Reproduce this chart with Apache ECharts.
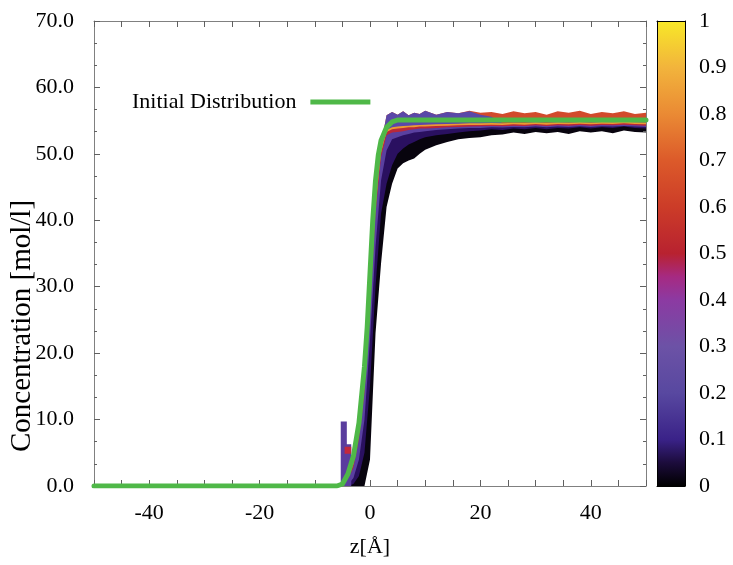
<!DOCTYPE html>
<html>
<head>
<meta charset="utf-8">
<script src="https://cdn.jsdelivr.net/npm/echarts@6/dist/echarts.min.js"></script>
<style>
  html, body { margin: 0; padding: 0; background: #fff; }
  #chart { width: 733px; height: 565px; }
</style>
</head>
<body>
<div id="chart"></div>
<script>
// ---------------- data ----------------
const zGrid = [-50,-6,-5,-4,-3,-2,-1,0,1,2,3,4,5,6,7,8,9,10,12,14,16,18,20,22,24,26,28,30,32,34,36,38,40,42,44,46,48,50];

// boundaries of the dense bundle of time-colored profiles (upper edge of each colour band)
const edgeLow    = [0,0,0,0,0,0,0,4,23,33.5,42,45.5,47.8,48.6,49.0,49.3,50.0,50.6,51.3,51.8,52.2,52.4,52.5,52.8,52.9,53.2,53.0,53.3,53.1,53.3,53.0,53.4,53.2,53.4,53.1,53.5,53.3,53.2];
const edgeBlack  = [0,0,0,0,0.3,1.5,5,15,30,41,45.5,48.3,50.0,50.8,51.4,51.8,52.2,52.5,52.8,53.0,53.2,53.4,53.5,53.7,53.6,53.8,53.7,53.9,53.7,53.9,53.8,54.0,53.8,54.0,53.9,54.1,53.9,53.8];
const edgeDark   = [0,0,0,0.2,1.2,4,10,22,36,46,50.5,52.2,52.5,52.8,53.0,53.2,53.3,53.4,53.6,53.7,53.8,53.9,53.9,54.0,53.95,54.05,54.0,54.1,54.0,54.1,54.05,54.15,54.05,54.15,54.1,54.2,54.1,54.05];
const edgePurple = [0,0,0.1,0.8,2.8,7,14,27,41,49.5,52.8,53.2,53.3,53.4,53.6,53.7,53.8,53.8,53.9,54.0,54.05,54.1,54.15,54.2,54.15,54.25,54.2,54.3,54.2,54.3,54.25,54.35,54.25,54.35,54.3,54.4,54.3,54.25];
const edgeRed    = [0,0,0.1,1.0,3.3,7.8,15,28,42,50.2,53.3,53.7,53.8,53.9,54.0,54.0,54.1,54.1,54.2,54.25,54.3,54.35,54.35,54.4,54.35,54.45,54.4,54.5,54.4,54.5,54.45,54.55,54.45,54.55,54.5,54.6,54.5,54.45];
const edgeOrange = [0,0,0.1,1.1,3.5,8,15.5,28.5,42.5,50.6,53.6,54.0,54.1,54.2,54.25,54.3,54.35,54.4,54.45,54.5,54.55,54.6,54.6,54.65,54.6,54.7,54.65,54.75,54.65,54.75,54.7,54.8,54.7,54.8,54.75,54.85,54.75,54.7];
const edgeTopPurple = [0,0,0.1,1.1,3.5,8,15.5,28.5,42.5,51.5,55.8,56.3,55.9,56.4,55.8,56.2,56.0,56.5,55.9,56.3,56.1,56.4,55.9,55.6,54.6,54.7,54.65,54.75,54.65,54.75,54.7,54.8,54.7,54.8,54.75,54.85,54.75,54.7];
const edgeTopRed    = [0,0,0.1,1.1,3.5,8,15.5,28.5,42.5,51.5,55.8,56.3,55.9,56.4,55.8,56.2,56.0,56.5,55.9,56.3,56.1,56.5,56.2,56.3,56.0,56.4,56.1,56.3,55.9,56.4,56.2,56.5,56.0,56.3,56.1,56.4,56.0,56.2];

// small artefact near z = -5 .. -3
const spikeZ = [-5.3,-5.3,-4.2,-4.2,-3.4,-3.4];
const spikeC = [0,9.7,9.7,6.3,6.3,0];
const spikeRedZ = [-4.6,-3.4];
const spikeRedC = [5.4,5.4];

// initial distribution (green)
const initZ = [-50,-6,-5,-4,-3,-2,-1,-0.5,0,0.5,1,1.5,2,3,4,5,6,50];
const initC = [0,0,0.3,1.8,4.5,9.5,18,24,32,40,46,49.8,52,54,54.8,55.1,55.1,55.1];

// colour bar
const cbTicks = [0,0.1,0.2,0.3,0.4,0.5,0.6,0.7,0.8,0.9,1];
const cmapPos   = [0,0.05,0.1,0.2,0.3,0.4,0.45,0.5,0.6,0.7,0.8,0.9,1];
const cmapColor = ['#000000','#1c0c3c','#3a2288','#5848a0','#6c52a6','#8c3aa2','#a62a82','#b82230','#cc3c28','#dc5a2a','#ea8a34','#f2b43c','#f8e828'];

// ---------------- chart ----------------
const FONT = '"Liberation Serif", "DejaVu Serif", serif';
const zip = (xs, ys) => xs.map((x, i) => [x, ys[i]]);

function band(edge, color) {
  return {
    type: 'line', xAxisIndex: 0, yAxisIndex: 0,
    data: zip(zGrid, edge), symbol: 'none', silent: true,
    lineStyle: { width: 0, opacity: 0 },
    areaStyle: { color: color, opacity: 1 },
    z: 2
  };
}

const frame = '#808080';
const tickCol = '#606060';

const chart = echarts.init(document.getElementById('chart'), null, { renderer: 'canvas' });
chart.setOption({
  animation: false,
  backgroundColor: '#ffffff',
  legend: {
    data: [{ name: 'Initial Distribution', icon: 'rect' }],
    left: 127, top: 86,
    itemWidth: 60, itemHeight: 5,
    align: 'right',
    selectedMode: false,
    textStyle: { fontFamily: FONT, fontSize: 22, color: '#000', padding: [0, 9, 0, 0] }
  },
  graphic: [{
    type: 'text', x: 22, y: 326, rotation: Math.PI / 2, silent: true,
    style: { text: 'Concentration [mol/l]', font: '29px "Liberation Serif", serif', fill: '#000',
      textAlign: 'center', textVerticalAlign: 'middle' }
  }],
  grid: [
    { left: 94, right: 87, top: 21, bottom: 79 },
    { left: 657, width: 28, top: 21, bottom: 79 }
  ],
  xAxis: [
    {
      gridIndex: 0, type: 'value', min: -50, max: 50, interval: 5, position: 'bottom', z: 5,
      name: 'z[Å]', nameLocation: 'middle', nameGap: 50,
      nameTextStyle: { fontFamily: FONT, fontSize: 22, color: '#000' },
      axisLine: { onZero: false, lineStyle: { color: frame, width: 1 } },
      axisTick: { inside: true, length: 6, lineStyle: { color: tickCol } },
      axisLabel: { fontFamily: FONT, fontSize: 22, color: '#000', margin: 16,
        formatter: v => (Math.round(v) % 20 === 0 ? String(Math.round(v)) : '') },
      splitLine: { show: false }
    },
    {
      gridIndex: 0, type: 'value', min: -50, max: 50, interval: 5, position: 'top', z: 5,
      axisLine: { onZero: false, lineStyle: { color: frame, width: 1 } },
      axisTick: { inside: true, length: 6, lineStyle: { color: tickCol } },
      axisLabel: { show: false }, splitLine: { show: false }
    },
    {
      gridIndex: 1, type: 'category', data: ['cb'], position: 'bottom', z: 5,
      axisLine: { onZero: false, lineStyle: { color: '#000', width: 1 } },
      axisTick: { show: false }, axisLabel: { show: false }
    },
    {
      gridIndex: 1, type: 'category', data: ['cb'], position: 'top', z: 5,
      axisLine: { onZero: false, lineStyle: { color: '#000', width: 1 } },
      axisTick: { show: false }, axisLabel: { show: false }
    }
  ],
  yAxis: [
    {
      gridIndex: 0, type: 'value', min: 0, max: 70, interval: 10, position: 'left', z: 5,
      axisLine: { show: true, onZero: false, lineStyle: { color: frame, width: 1 } },
      axisTick: { inside: true, length: 6, lineStyle: { color: tickCol } },
      minorTick: { show: true, splitNumber: 3, length: 3, lineStyle: { color: tickCol } },
      axisLabel: { fontFamily: FONT, fontSize: 22, color: '#000', margin: 20,
        formatter: v => v.toFixed(1) },
      splitLine: { show: false }
    },
    {
      gridIndex: 0, type: 'value', min: 0, max: 70, interval: 10, position: 'right', z: 5,
      axisLine: { show: true, onZero: false, lineStyle: { color: frame, width: 1 } },
      axisTick: { inside: true, length: 6, lineStyle: { color: tickCol } },
      minorTick: { show: true, splitNumber: 3, length: 3, lineStyle: { color: tickCol } },
      axisLabel: { show: false }, splitLine: { show: false }
    },
    {
      gridIndex: 1, type: 'value', min: 0, max: 1, interval: 0.1, position: 'right', z: 5,
      axisLine: { show: true, onZero: false, lineStyle: { color: '#000', width: 1 } },
      axisTick: { inside: true, length: 5, lineStyle: { color: '#000' } },
      axisLabel: { fontFamily: FONT, fontSize: 22, color: '#000', margin: 14,
        formatter: v => { const r = Math.round(v * 10) / 10; return (r === 0 || r === 1) ? String(r) : r.toFixed(1); } },
      splitLine: { show: false }
    },
    {
      gridIndex: 1, type: 'value', min: 0, max: 1, interval: 0.1, position: 'left', z: 5,
      axisLine: { show: true, onZero: false, lineStyle: { color: '#000', width: 1 } },
      axisTick: { inside: true, length: 5, lineStyle: { color: '#000' } },
      axisLabel: { show: false }, splitLine: { show: false }
    }
  ],
  series: [
    band(edgeTopRed, '#d24a2c'),
    band(edgeTopPurple, '#5a48a8'),
    band(edgeOrange, '#ec9a32'),
    band(edgeRed, '#b8283a'),
    band(edgePurple, '#5a40a0'),
    band(edgeDark, '#2a1060'),
    band(edgeBlack, '#08040e'),
    band(edgeLow, '#ffffff'),
    {
      type: 'line', xAxisIndex: 0, yAxisIndex: 0, data: zip(spikeZ, spikeC),
      symbol: 'none', silent: true, lineStyle: { width: 0, opacity: 0 },
      areaStyle: { color: '#5a3d9e', opacity: 1 }, z: 3
    },
    {
      type: 'line', xAxisIndex: 0, yAxisIndex: 0, data: zip(spikeRedZ, spikeRedC),
      symbol: 'none', silent: true, lineStyle: { width: 7, color: '#c2283c' }, z: 3
    },
    {
      name: 'Initial Distribution',
      type: 'line', xAxisIndex: 0, yAxisIndex: 0, data: zip(initZ, initC),
      symbol: 'none', silent: true,
      lineStyle: { width: 5, color: '#4fb848', cap: 'round', join: 'round' },
      itemStyle: { color: '#4fb848' },
      z: 10
    },
    {
      type: 'bar', xAxisIndex: 2, yAxisIndex: 2, silent: true,
      data: [cbTicks[cbTicks.length - 1]], barWidth: '100%',
      itemStyle: {
        color: {
          type: 'linear', x: 0, y: 1, x2: 0, y2: 0,
          colorStops: cmapPos.map((p, i) => ({ offset: p, color: cmapColor[i] }))
        }
      },
      z: 2
    }
  ]
});
</script>
</body>
</html>
